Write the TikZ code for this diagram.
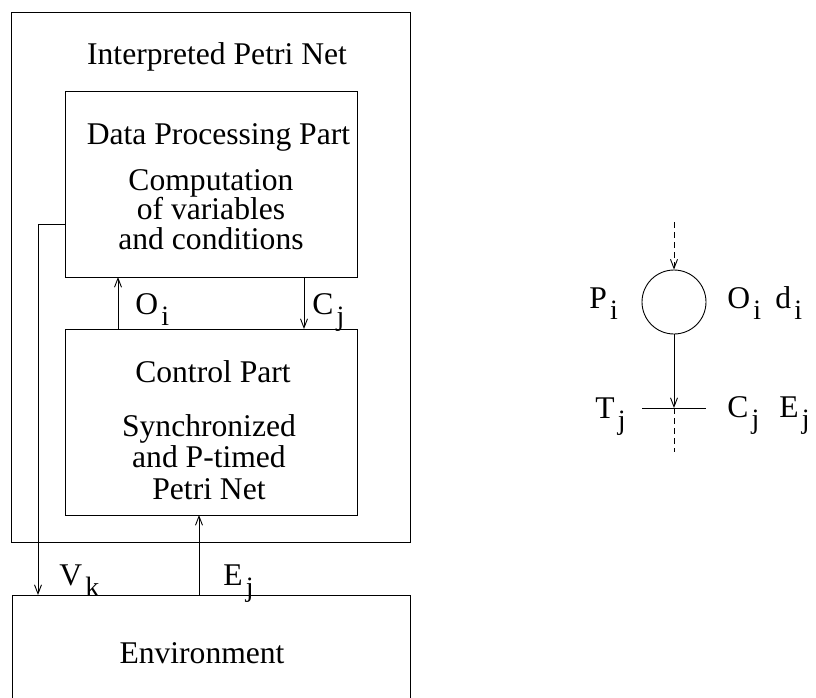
\documentclass[tikz,border=0pt]{standalone}
\usepackage{fontspec}
\setmainfont{Liberation Serif}
\usetikzlibrary{arrows.meta}
\newcommand\lsub[1]{\kern3pt\raisebox{-11pt}{\fontsize{28}{30}\selectfont #1}}
\begin{document}
\begin{tikzpicture}[x=1pt,y=-1pt, line width=0.9pt,
  box/.style={draw, anchor=north west, inner sep=0pt, outer sep=0pt},
  txt/.style={anchor=base, inner sep=0pt, font=\fontsize{31.6}{36}\selectfont},
  lbl/.style={anchor=base west, inner sep=0pt, font=\fontsize{31.6}{36}\selectfont},
  arr/.style={-{Straight Barb[length=9pt,width=7pt]}},
  dsh/.style={dash pattern=on 6pt off 4pt}]
\useasboundingbox (0,0) rectangle (816,697);
\begin{scope}
\clip (0,0) rectangle (816,697);
% boxes
\node[box, minimum width=399pt, minimum height=530pt] (ipn) at (11,12) {};
\node[box, minimum width=292pt, minimum height=186pt] (dp) at (65,91) {};
\node[box, minimum width=292pt, minimum height=186pt] (cp) at (65,329) {};
\node[box, minimum width=398pt, minimum height=160pt] (env) at (12,595) {};
\end{scope}
% texts
\node[txt] (t1) at (217,64) {Interpreted Petri Net};
\node[txt] (t2) at (218.5,144) {Data Processing Part};
\node[txt, align=center, font=\fontsize{31.6}{29.3}\selectfont] (t3) at (211,249) {Computation\\of variables\\and conditions};
\node[txt] (t6) at (213,382) {Control Part};
\node[txt, align=center, font=\fontsize{31.6}{31.5}\selectfont] (t7) at (209,499) {Synchronized\\and P-timed\\Petri Net};
\node[txt] (t10) at (202,663) {Environment};
% coordinates for connectors
\coordinate (oi) at (118,0);
\coordinate (cj) at (304,0);
\coordinate (ej) at (199,0);
\coordinate (fb) at (38,224);
\draw[arr] (cp.north -| oi) -- (dp.south -| oi);
\draw[arr] (dp.south -| cj) -- (cp.north -| cj);
\draw[arr] (env.north -| ej) -- (cp.south -| ej);
\draw[arr] (dp.west |- fb) -| (env.north -| fb);
% labels
\node[lbl] (lOi) at (135,314) {O\lsub{i}};
\node[lbl] (lCj) at (312,314) {C\lsub{j}};
\node[lbl] (lVk) at (59,585) {V\lsub{k}};
\node[lbl] (lEj) at (223,585) {E\lsub{j}};
% right diagram
\node[circle, draw, minimum size=64pt, inner sep=0pt] (pl) at (674,302) {};
\coordinate (top) at (674,222);
\coordinate (tr) at (674,408);
\coordinate (trL) at (642,408);
\coordinate (trR) at (706,408);
\coordinate (bot) at (674,452);
\draw[dsh, arr] (top) -- (pl.north);
\draw[arr] (pl.south) -- (tr);
\draw (trL) -- (trR);
\draw[dsh] (tr) -- (bot);
\node[lbl] (lPi) at (589,308) {P\lsub{i}};
\node[lbl] (lOi2) at (727,308) {O\lsub{i}};
\node[lbl] (ldi) at (775,308) {d\lsub{i}};
\node[lbl] (lTj) at (595,418) {T\lsub{j}};
\node[lbl] (lCj2) at (727,417) {C\lsub{j}};
\node[lbl] (lEj2) at (779,417) {E\lsub{j}};
\end{tikzpicture}
\end{document}
